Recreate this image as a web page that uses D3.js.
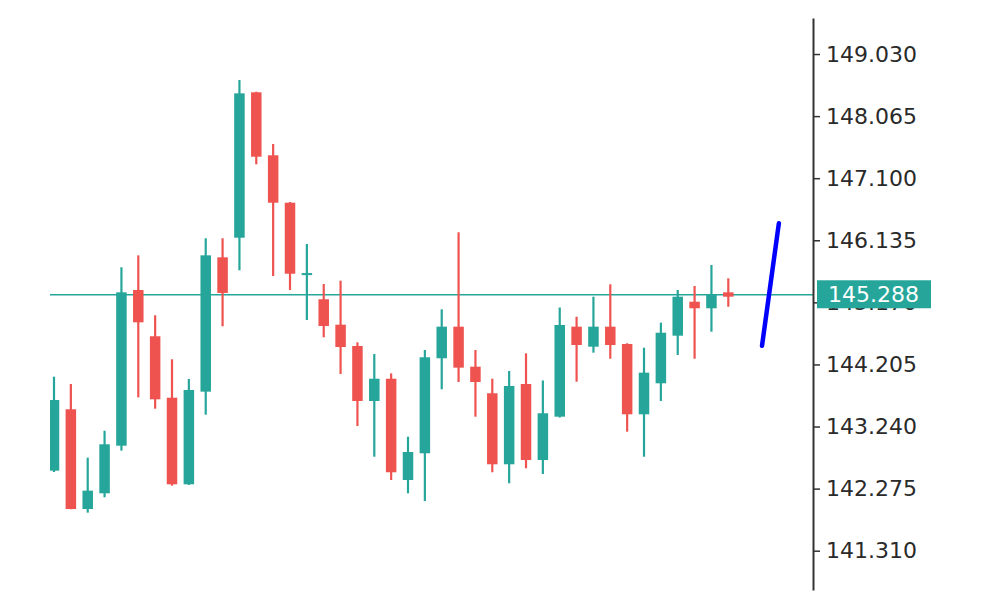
<!DOCTYPE html>
<html>
<head>
<meta charset="utf-8">
<script src="https://cdn.jsdelivr.net/npm/d3@7"></script>
<style>
  body { margin: 0; background: #fff; }
  svg { display: block; }
</style>
</head>
<body>
<div id="my_dataviz"></div>
<script>
// candles, left to right
const opens  = [142.554, 143.508, 141.958, 142.202, 142.942, 145.362, 144.643, 143.688, 142.342, 143.782,
                145.870, 146.175, 148.435, 147.456, 146.719, 145.612, 145.218, 144.823, 144.492, 143.637,
                143.983, 142.409, 142.824, 144.301, 144.792, 144.170, 143.757, 142.653, 143.901, 142.720,
                143.393, 144.792, 144.481, 144.792, 144.523, 143.430, 143.912, 144.652, 145.180, 145.078,
                145.326];
const highs  = [144.015, 143.901, 142.756, 143.175, 145.715, 145.901, 144.969, 144.285, 143.979, 146.166,
                146.166, 148.626, 148.444, 147.631, 146.730, 146.077, 145.455, 145.507, 144.549, 144.367,
                144.067, 143.082, 144.430, 145.062, 146.259, 144.430, 143.983, 144.103, 144.378, 143.956,
                145.090, 144.947, 145.258, 145.451, 144.534, 144.465, 144.854, 145.362, 145.424, 145.751,
                145.544];
const lows   = [142.533, 141.955, 141.901, 142.140, 142.865, 143.694, 143.517, 142.321, 142.332, 143.424,
                144.798, 145.668, 147.316, 145.580, 145.362, 144.896, 144.627, 144.057, 143.248, 142.771,
                142.409, 142.202, 142.083, 143.819, 143.932, 143.393, 142.529, 142.358, 142.591, 142.502,
                143.380, 143.937, 144.388, 144.294, 143.160, 142.771, 143.637, 144.352, 144.294, 144.714,
                145.102];
const closes = [143.652, 141.958, 142.243, 142.964, 145.326, 144.860, 143.663, 142.342, 143.808, 145.901,
                145.316, 148.419, 147.434, 146.719, 145.615, 145.625, 144.803, 144.476, 143.637, 143.983,
                142.529, 142.844, 144.316, 144.792, 144.155, 143.932, 142.653, 143.870, 142.720, 143.446,
                144.818, 144.507, 144.792, 144.507, 143.430, 144.077, 144.698, 145.258, 145.078, 145.295,
                145.258];

// price ticks on the right axis
const tickValues = [141.310, 142.275, 143.240, 144.205, 145.170, 146.135, 147.100, 148.065, 149.030];

// current price line
const lastPrice = 145.288;

// blue projection segment (bar index, price)
const projIndex = [42, 43];
const projPrice = [144.496, 146.399];

const data = opens.map((o, i) => ({i: i, o: o, h: highs[i], l: lows[i], c: closes[i]}));

const width = 1000, height = 600;
const plotLeft = 50, axisX = 813, plotTop = 18, plotBottom = 590;

const up = "#26a69a", down = "#ef5350";

const svg = d3.select("#my_dataviz")
  .append("svg")
    .attr("width", width)
    .attr("height", height);

// scales
const x = d3.scaleLinear()
  .domain([0, 40])
  .range([54, 728.3]);

const y = d3.scaleLinear()
  .domain([140.699, 149.590])
  .range([plotBottom, plotTop]);

// clip the candles at the left edge
svg.append("clipPath")
    .attr("id", "plot-clip")
  .append("rect")
    .attr("x", plotLeft)
    .attr("y", 0)
    .attr("width", axisX - plotLeft)
    .attr("height", height);

const plot = svg.append("g").attr("clip-path", "url(#plot-clip)");

// current price line
plot.append("line")
  .attr("x1", plotLeft)
  .attr("x2", axisX)
  .attr("y1", y(lastPrice))
  .attr("y2", y(lastPrice))
  .attr("stroke", up)
  .attr("stroke-width", 1.6);

const candles = plot.selectAll(".candle")
  .data(data)
  .join("g")
    .attr("class", "candle");

// wicks
candles.append("line")
  .attr("x1", d => x(d.i))
  .attr("x2", d => x(d.i))
  .attr("y1", d => y(d.h))
  .attr("y2", d => y(d.l))
  .attr("stroke", d => d.c >= d.o ? up : down)
  .attr("stroke-width", 2.2);

// bodies
const bodyW = 10.5;
candles.append("rect")
  .attr("x", d => x(d.i) - bodyW / 2)
  .attr("width", bodyW)
  .attr("y", d => y(Math.max(d.o, d.c)))
  .attr("height", d => Math.max(2, Math.abs(y(d.o) - y(d.c))))
  .attr("fill", d => d.c >= d.o ? up : down);

// projection
plot.append("path")
  .datum(projIndex.map((v, k) => [v, projPrice[k]]))
  .attr("fill", "none")
  .attr("stroke", "#0000ff")
  .attr("stroke-width", 4.5)
  .attr("stroke-linecap", "round")
  .attr("d", d3.line()
    .x(d => x(d[0]))
    .y(d => y(d[1]))
  );

// right price axis
const axis = svg.append("g")
  .attr("transform", `translate(${axisX},0)`)
  .call(d3.axisRight(y)
    .tickValues(tickValues)
    .tickFormat(d3.format(".3f"))
    .tickSize(7)
    .tickSizeOuter(0)
    .tickPadding(6));

axis.select(".domain")
  .attr("stroke", "#333")
  .attr("stroke-width", 2);
axis.selectAll(".tick line")
  .attr("stroke", "#333")
  .attr("stroke-width", 1.5);
axis.selectAll(".tick text")
  .attr("fill", "#2a2a2a")
  .style("font-family", "'DejaVu Sans', Verdana, sans-serif")
  .style("font-size", "22px");

// current price label
const label = svg.append("g")
  .attr("transform", `translate(${axisX + 4},${y(lastPrice)})`);
label.append("rect")
  .attr("x", 0)
  .attr("y", -14.5)
  .attr("width", 114)
  .attr("height", 28)
  .attr("fill", up);
label.append("text")
  .attr("x", 11)
  .attr("dy", "0.34em")
  .attr("fill", "#fff")
  .style("font-family", "'DejaVu Sans', Verdana, sans-serif")
  .style("font-size", "22px")
  .text(d3.format(".3f")(lastPrice));
</script>
</body>
</html>
